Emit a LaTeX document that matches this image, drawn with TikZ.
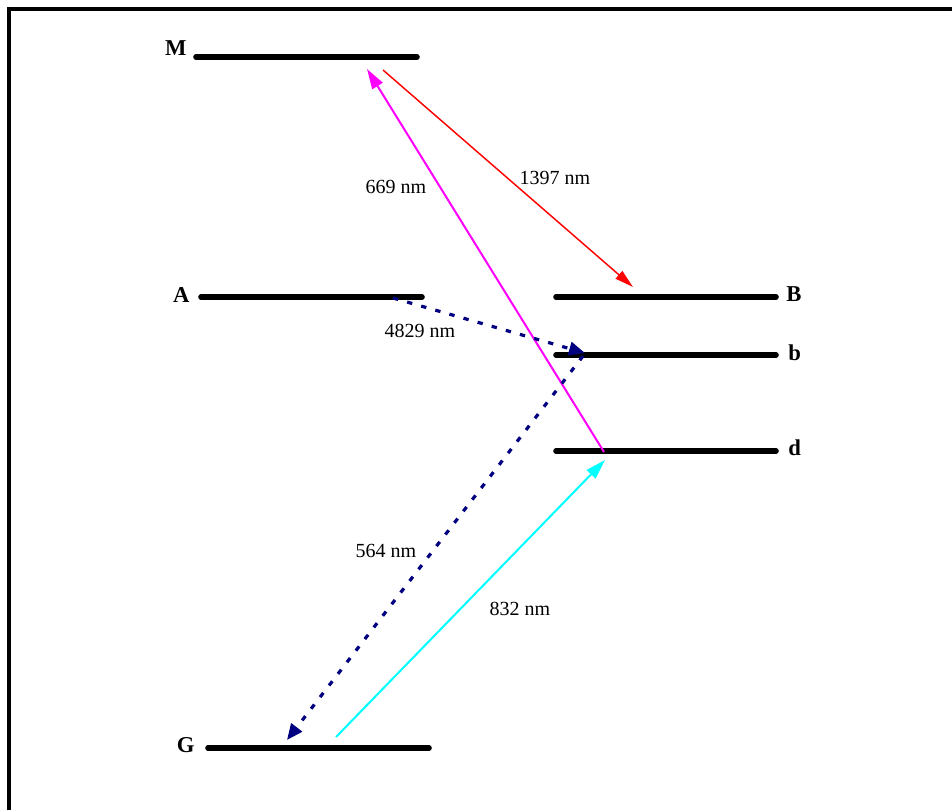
\documentclass[tikz,border=0pt]{standalone}
\usepackage{fontspec}
\setmainfont{Liberation Serif}
\usetikzlibrary{arrows.meta,positioning}
\definecolor{navyline}{rgb}{0,0,0.5}
\definecolor{pinkline}{rgb}{1,0,1}
\definecolor{aqualine}{rgb}{0,1,1}
\definecolor{redline}{rgb}{1,0,0}

\begin{document}
\begin{tikzpicture}[x=0.75pt, y=-0.75pt,
  every node/.style={font=\fontsize{15}{18}\selectfont, inner sep=0pt},
  level/.style={line width=4.2pt, line cap=round},
  lvlname/.style={font=\fontsize{17}{20}\selectfont\bfseries},
  solidarr/.style={line width=1.5pt, -{Triangle[length=15pt,width=9pt]}},
  dasharr/.style={line width=2.4pt, dash pattern=on 4pt off 7pt, navyline,
    -{Triangle[length=12pt,width=10pt]}}]
  \useasboundingbox (0,0) rectangle (952,810);
  \draw[line width=2.6pt] (9,810) -- (9,9) -- (952,9);

  % energy levels
  \coordinate (Ml) at (196,57);  \coordinate (Mr) at (417,57);
  \coordinate (Al) at (201,297); \coordinate (Ar) at (422,297);
  \coordinate (Bl) at (556,297); \coordinate (Br) at (776,297);
  \coordinate (bl) at (556,355); \coordinate (br) at (776,355);
  \coordinate (dl) at (556,451); \coordinate (dr) at (776,451);
  \coordinate (Gl) at (208,748); \coordinate (Gr) at (429,748);
  \foreach \lv in {M,A,B,b,d,G}
    \draw[level] (\lv l) -- (\lv r);

  \node[lvlname, left=7pt of Ml, yshift=7pt] (Mname) {M};
  \node[lvlname, left=8.5pt of Al, yshift=1.5pt] (Aname) {A};
  \node[lvlname, left=10pt of Gl, yshift=2pt] (Gname) {G};
  \node[lvlname, right=7.5pt of Br, yshift=2.5pt] (Bname) {B};
  \node[lvlname, right=9pt of br, yshift=1.5pt] (bname) {b};
  \node[lvlname, right=9pt of dr, yshift=2.5pt] (dname) {d};

  % transitions
  \coordinate (d669) at (604,452); \coordinate (M669) at (367,69);
  \coordinate (M1397) at (383,70); \coordinate (B1397) at (633,287);
  \coordinate (A4829) at (393,298); \coordinate (b4829) at (585,353);
  \coordinate (b564) at (583,356); \coordinate (G564) at (287,740);
  \coordinate (G832) at (336,737); \coordinate (d832) at (605,460);

  \draw[solidarr, pinkline] (d669) -- (M669);
  \draw[solidarr, redline, line width=1.1pt,
    -{Triangle[length=14pt,width=7.5pt]}] (M1397) -- (B1397);
  \draw[dasharr] (A4829) -- (b4829);
  \draw[dasharr] (b564) -- (G564);
  \draw[solidarr, aqualine] (G832) -- (d832);

  \node (l669) at (396,187) {669 nm};
  \node (l1397) at (555,178) {1397 nm};
  \node (l4829) at (420,331) {4829 nm};
  \node (l564) at (386,551) {564 nm};
  \node (l832) at (520,609) {832 nm};
\end{tikzpicture}
\end{document}
